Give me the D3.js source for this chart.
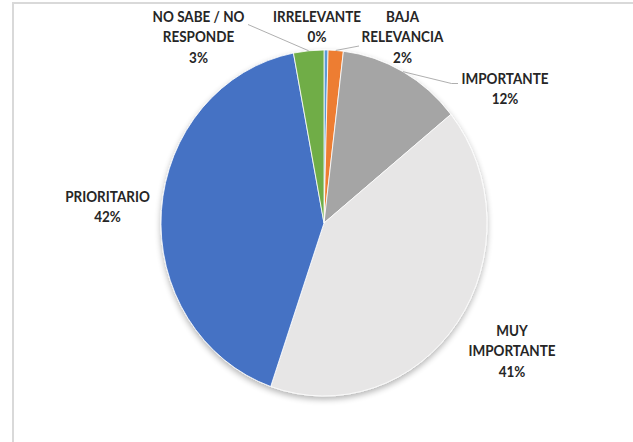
<!DOCTYPE html>
<html>
<head>
<meta charset="utf-8">
<script src="https://cdn.jsdelivr.net/npm/d3@7"></script>
<style>
  html, body { margin: 0; padding: 0; background: #ffffff; }
  svg { display: block; }
</style>
</head>
<body>
<svg id="chart" width="633" height="442"></svg>
<script>
// Survey answers: share of responses per priority level (percent)
const categories = ["IRRELEVANTE", "BAJA RELEVANCIA", "IMPORTANTE", "MUY IMPORTANTE", "PRIORITARIO", "NO SABE / NO RESPONDE"];
const values = [0.4, 1.5, 12.3, 41.1, 41.7, 3.0];
const labelLines = [["IRRELEVANTE"], ["BAJA", "RELEVANCIA"], ["IMPORTANTE"], ["MUY", "IMPORTANTE"], ["PRIORITARIO"], ["NO SABE / NO", "RESPONDE"]];
const sliceColors = ["#5B9BD5", "#ED7D31", "#A5A5A5", "#E7E6E6", "#4472C4", "#70AD47"];

const W = 633, H = 442;
const cx = 324, cy = 223, r = 163, yStretch = 173 / 163;
const lineH = 20.5;

// Label placement (centre x, first baseline y) and leader-line end at the label side
const labelPos = [
  { x: 317, y: 21.7, lead: null },
  { x: 402.5, y: 21.7, lead: [[359, 46]] },
  { x: 505, y: 84, lead: [[451.5, 83.5], [458, 83.5]] },
  { x: 512, y: 336, lead: null },
  { x: 107.5, y: 202, lead: null },
  { x: 198.5, y: 21.7, lead: [[248, 24.5]] }
];

const svg = d3.select("#chart");

// chart area frame
svg.append("path")
  .attr("d", `M13,${H} V3 H${W}`)
  .attr("fill", "none")
  .attr("stroke", "#D9D9D9")
  .attr("stroke-width", 2);

const defs = svg.append("defs");
const f = defs.append("filter").attr("id", "shadow")
  .attr("x", "-20%").attr("y", "-20%").attr("width", "140%").attr("height", "140%");
f.append("feGaussianBlur").attr("in", "SourceAlpha").attr("stdDeviation", 3).attr("result", "b");
f.append("feOffset").attr("in", "b").attr("dx", 0).attr("dy", 3).attr("result", "o");
f.append("feComponentTransfer").attr("in", "o").attr("result", "s")
  .append("feFuncA").attr("type", "linear").attr("slope", 0.3);
const m = f.append("feMerge");
m.append("feMergeNode").attr("in", "s");
m.append("feMergeNode").attr("in", "SourceGraphic");

const pie = d3.pie().sort(null).value(d => d)(values);
const arc = d3.arc().innerRadius(0).outerRadius(r);
const color = d3.scaleOrdinal().domain(categories).range(sliceColors);

const g = svg.append("g")
  .attr("transform", `translate(${cx},${cy}) scale(1,${yStretch})`)
  .attr("filter", "url(#shadow)");

g.selectAll("path.slice")
  .data(pie)
  .join("path")
  .attr("class", "slice")
  .attr("d", arc)
  .attr("fill", (d, i) => color(categories[i]))
  .attr("stroke", "#ffffff")
  .attr("stroke-width", 0.8)
  .attr("vector-effect", "non-scaling-stroke");

// point on the outer edge at the middle of a slice, in page coordinates
function edgePoint(d) {
  const a = (d.startAngle + d.endAngle) / 2;
  return [cx + r * Math.sin(a), cy - r * yStretch * Math.cos(a)];
}

// leader lines
pie.forEach((d, i) => {
  const p = labelPos[i];
  if (!p.lead) return;
  const pts = [edgePoint(d)].concat(p.lead);
  svg.append("path")
    .attr("d", d3.line()(pts))
    .attr("fill", "none")
    .attr("stroke", "#A6A6A6")
    .attr("stroke-width", 0.9);
});

// data labels: category name and rounded percent (slightly condensed)
pie.forEach((d, i) => {
  const p = labelPos[i];
  const lines = labelLines[i].concat([Math.round(values[i]) + "%"]);
  const t = svg.append("text")
    .attr("transform", `translate(${p.x},${p.y}) scale(0.9,1)`)
    .attr("text-anchor", "middle")
    .attr("font-family", "Lato, 'Open Sans', sans-serif")
    .attr("font-weight", "bold")
    .attr("font-size", 15)
    .attr("fill", "#262626");
  lines.forEach((s, k) => {
    t.append("tspan").attr("x", 0).attr("y", k * lineH).text(s);
  });
});
</script>
</body>
</html>
